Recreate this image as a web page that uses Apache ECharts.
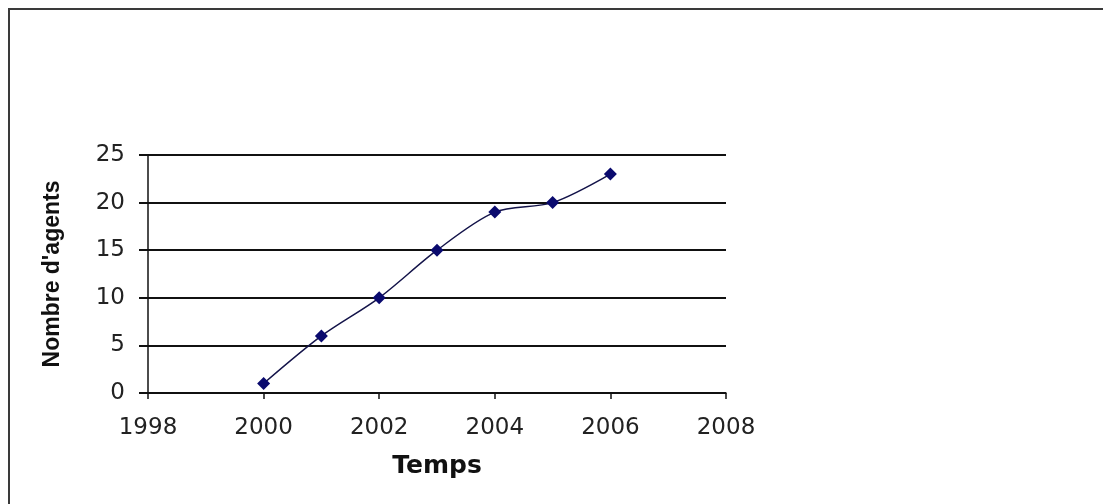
<!DOCTYPE html>
<html>
<head>
<meta charset="utf-8">
<script src="https://cdn.jsdelivr.net/npm/echarts@6/dist/echarts.min.js"></script>
<style>
html,body{margin:0;padding:0;background:#fff;}
#chart{width:1103px;height:504px;}
</style>
</head>
<body>
<div id="chart"></div>
<script>
var years = [2000, 2001, 2002, 2003, 2004, 2005, 2006];
var agents = [1, 6, 10, 15, 19, 20, 23];
var xTickLabels = ['1998', '2000', '2002', '2004', '2006', '2008'];
var yTickLabels = ['0', '5', '10', '15', '20', '25'];
var xTitle = 'Temps';
var yTitle = "Nombre d'agents";

var points = years.map(function (y, i) { return [y, agents[i]]; });
var tickFont = '"DejaVu Sans", sans-serif';
var titleFont = 'Arial, "Liberation Sans", sans-serif';

var chart = echarts.init(document.getElementById('chart'), null, {renderer: 'canvas'});
chart.setOption({
  backgroundColor: '#ffffff',
  animation: false,
  graphic: [{
    type: 'rect',
    shape: {x: 9, y: 9, width: 1200, height: 600},
    style: {fill: 'none', stroke: '#3a3a3a', lineWidth: 2},
    silent: true,
    z: -1
  }],
  grid: {left: 148, right: 377, top: 155, bottom: 111},
  xAxis: {
    type: 'value',
    min: 1998, max: 2008, interval: 2,
    name: xTitle,
    nameLocation: 'middle',
    nameGap: 61,
    nameTextStyle: {fontFamily: tickFont, fontSize: 25, fontWeight: 'bold', color: '#111'},
    axisLine: {show: true, onZero: false, lineStyle: {color: '#111', width: 1.5}},
    axisTick: {show: true, inside: false, length: 6, lineStyle: {color: '#111', width: 1.5}},
    axisLabel: {
      margin: 24, fontFamily: tickFont, fontSize: 23, color: '#222',
      formatter: function (v) { var s = String(v); return xTickLabels.indexOf(s) >= 0 ? s : ''; }
    },
    splitLine: {show: false}
  },
  yAxis: {
    type: 'value',
    min: 0, max: 25, interval: 5,
    name: yTitle,
    nameLocation: 'middle',
    nameGap: 84,
    nameRotate: 90,
    nameTextStyle: {fontFamily: titleFont, fontSize: 23, fontWeight: 'bold', color: '#111'},
    axisLine: {show: true, lineStyle: {color: '#111', width: 1.5}},
    axisTick: {show: true, inside: false, length: 9, lineStyle: {color: '#111', width: 2}},
    axisLabel: {
      margin: 23, fontFamily: tickFont, fontSize: 23, color: '#222',
      formatter: function (v) { var s = String(v); return yTickLabels.indexOf(s) >= 0 ? s : ''; }
    },
    splitLine: {show: true, lineStyle: {color: '#111', width: 2}}
  },
  series: [{
    type: 'line',
    data: points,
    smooth: 0.3,
    symbol: 'diamond',
    symbolSize: 13,
    itemStyle: {color: '#0a0a6e'},
    lineStyle: {color: '#14144a', width: 1.5}
  }]
});
</script>
</body>
</html>
